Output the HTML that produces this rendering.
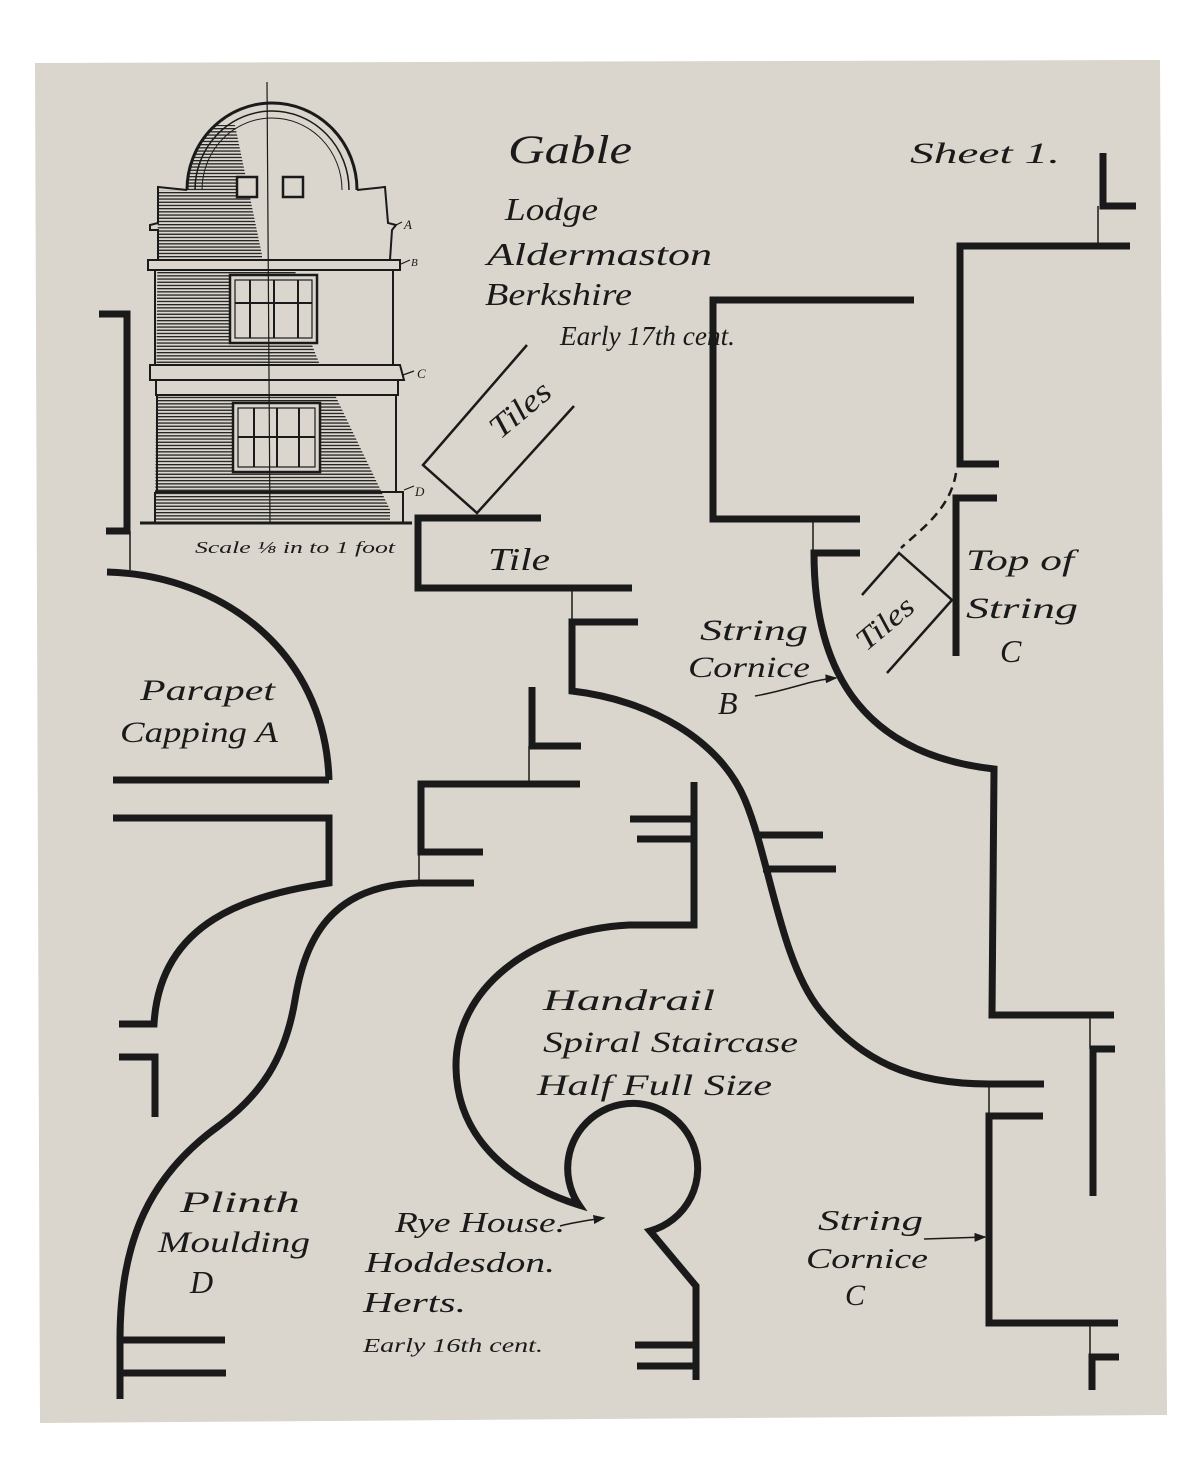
<!DOCTYPE html>
<html><head><meta charset="utf-8"><style>
html,body{margin:0;padding:0;background:#fff;}
svg{display:block;}
text{font-family:"Liberation Serif",serif;font-style:italic;fill:#1a1a1a;}
</style></head><body>
<svg width="1200" height="1476" viewBox="0 0 1200 1476" xmlns="http://www.w3.org/2000/svg">
<defs>
<pattern id="hat" width="6" height="3.2" patternUnits="userSpaceOnUse">
<rect x="0" y="0" width="6" height="1.3" fill="#222"/>
</pattern>
<clipPath id="bld"><path d="M158,190 L187,190 A85,87 0 0 1 357,190 L390,190 L390,523 L155,523 Z"/></clipPath>
<marker id="ah" markerWidth="8" markerHeight="6" refX="7" refY="3" orient="auto"><path d="M0,0 L8,3 L0,6 Z" fill="#1a1a1a"/></marker>
</defs>
<polygon points="35,63 1160,60 1167,1415 40,1423" fill="#dad6cd"/>

<!-- Gable building -->
<g stroke="#1a1a1a" fill="none">
<polygon clip-path="url(#bld)" points="155,190 195,125 235,125 262,255 262,270 295,270 312,345 320,365 320,395 335,395 395,520 155,520" fill="url(#hat)" stroke="none"/>
<path d="M187,190 A85,87 0 0 1 357,190" stroke-width="3"/>
<path d="M195,190 A77,79 0 0 1 349,190" stroke-width="1.5"/>
<path d="M202,190 A70,72 0 0 1 342,190" stroke-width="1"/>
<path d="M187,190 L158,187 L158,223 L150,225 L150,230 L158,230 L158,260 M357,190 L385,187 L388,223 L396,225 L392,230 L390,260" stroke-width="2"/>
<rect x="148" y="260" width="252" height="10" stroke-width="2" fill="#dad6cd"/>
<path d="M155,270 L155,365 M393,270 L393,365" stroke-width="2"/>
<path d="M150,365 L400,365 L404,380 L150,380 Z M156,380 L156,395 L398,395 L398,380" stroke-width="2" fill="#dad6cd"/>
<path d="M157,395 L157,492 M396,395 L396,492" stroke-width="2"/>
<path d="M155,492 L403,492 L403,523 M155,492 L155,523" stroke-width="2"/>
<path d="M140,523 L412,523" stroke-width="3"/>
<rect x="230" y="275" width="87" height="68" stroke-width="2.5" fill="#dad6cd"/>
<rect x="235" y="280" width="77" height="58" stroke-width="1.2"/>
<path d="M250,280 V338 M274,280 V338 M298,280 V338 M235,303 H312" stroke-width="2"/>
<rect x="233" y="403" width="87" height="69" stroke-width="2.5" fill="#dad6cd"/>
<rect x="238" y="408" width="77" height="59" stroke-width="1.2"/>
<path d="M254,408 V467 M277,408 V467 M299,408 V467 M238,437 H315" stroke-width="2"/>
<rect x="237" y="177" width="20" height="20" stroke-width="2.5" fill="#dad6cd"/>
<rect x="283" y="177" width="20" height="20" stroke-width="2.5" fill="#dad6cd"/>
<path d="M267,82 L270,523" stroke-width="1.2"/>
<path d="M394,226 L402,222 M401,264 L410,260 M403,375 L414,371 M404,490 L414,486" stroke-width="1.2"/>
</g>
<text x="404" y="229" font-size="13">A</text>
<text x="411" y="266" font-size="11">B</text>
<text x="417" y="378" font-size="13">C</text>
<text x="415" y="496" font-size="13">D</text>
<text x="195" y="553" font-size="17" textLength="200" lengthAdjust="spacingAndGlyphs">Scale ⅛ in to 1 foot</text>

<!-- main thick lines -->
<g stroke="#1a1a1a" stroke-width="7" fill="none" stroke-linejoin="miter">
<path d="M99,314 L127,314 L127,531 L106,531"/>
<path d="M107,572 C220,575 325,650 329,780"/>
<path d="M113,780 L329,780 M113,818 L329,818 L329,883 C250,895 160,920 154,1024 L119,1024 M119,1057 L155,1057 L155,1117"/>
<path d="M474,883 L419,883 C330,885 305,940 295,1000 C285,1060 260,1095 220,1125 C150,1175 120,1240 120,1339 L120,1399 M120,1340 L225,1340 M120,1373 L226,1373"/>
<path d="M541,518 L418,518 L418,588 L632,588"/>
<path d="M638,622 L572,622 L572,691 C650,700 720,740 745,800 C770,860 780,960 820,1010 C860,1060 910,1084 989,1084 L1044,1084"/>
<path d="M532,687 L532,746 L581,746 M580,784 L421,784 L421,852 L483,852"/>
<path d="M694,782 L694,925 L629,925 C530,930 455,990 456,1067 C457,1150 530,1190 579,1205 A65,65 0 1 1 650,1231 L696,1286 L696,1380"/>
<path d="M630,819 L694,819 M637,839 L694,839 M635,1345 L696,1345 M637,1366 L696,1366"/>
<path d="M759,835 L823,835 M763,869 L836,869"/>
<path d="M1043,1116 L989,1116 L989,1323 L1118,1323 M1119,1357 L1092,1357 L1092,1390"/>
<path d="M1103,153 L1103,206 L1136,206 M1130,246 L960,246 L960,464 L999,464 M997,498 L956,498 L956,656"/>
<path d="M914,300 L713,300 L713,519 L860,519 M860,553 L814,553 C814,680 870,755 994,769 L992,1015 L1114,1015 M1115,1049 L1093,1049 L1093,1196"/>
</g>
<g stroke="#1a1a1a" stroke-width="2.5" fill="none">
<polyline points="527,345 423,465 477,513 574,406"/>
<polyline points="862,595 899,553 952,600 887,673"/>
<path d="M956,473 C950,510 920,530 901,548" stroke-dasharray="9,6"/>
</g>
<g stroke="#1a1a1a" stroke-width="1.5" fill="none">
<path d="M130,531 L130,570 M572,588 L572,622 M529,746 L529,784 M419,852 L419,884 M989,1084 L989,1116 M1090,1323 L1090,1358 M1098,206 L1098,246 M813,519 L813,553 M1090,1015 L1090,1049"/>
<path d="M755,696 C790,690 810,680 836,678" marker-end="url(#ah)"/>
<path d="M924,1239 L985,1237" marker-end="url(#ah)"/>
<path d="M560,1226 C575,1222 590,1220 604,1218" marker-end="url(#ah)"/>
</g>

<!-- texts -->
<text x="508" y="163" font-size="40" textLength="124" lengthAdjust="spacingAndGlyphs">Gable</text>
<text x="910" y="163" font-size="30" textLength="150" lengthAdjust="spacingAndGlyphs">Sheet 1.</text>
<text x="505" y="220" font-size="32" textLength="93" lengthAdjust="spacingAndGlyphs">Lodge</text>
<text x="487" y="265" font-size="32" textLength="225" lengthAdjust="spacingAndGlyphs">Aldermaston</text>
<text x="485" y="305" font-size="32" textLength="147" lengthAdjust="spacingAndGlyphs">Berkshire</text>
<text x="560" y="345" font-size="27" textLength="175" lengthAdjust="spacingAndGlyphs">Early 17th cent.</text>
<text x="0" y="0" font-size="32" transform="translate(500,440) rotate(-40)" textLength="70" lengthAdjust="spacingAndGlyphs">Tiles</text>
<text x="488" y="570" font-size="32" textLength="62" lengthAdjust="spacingAndGlyphs">Tile</text>
<text x="0" y="0" font-size="30" transform="translate(866,652) rotate(-40)" textLength="66" lengthAdjust="spacingAndGlyphs">Tiles</text>
<text x="140" y="700" font-size="30" textLength="135" lengthAdjust="spacingAndGlyphs">Parapet</text>
<text x="120" y="742" font-size="30" textLength="158" lengthAdjust="spacingAndGlyphs">Capping A</text>
<text x="700" y="640" font-size="30" textLength="108" lengthAdjust="spacingAndGlyphs">String</text>
<text x="688" y="677" font-size="30" textLength="122" lengthAdjust="spacingAndGlyphs">Cornice</text>
<text x="718" y="714" font-size="32">B</text>
<text x="966" y="570" font-size="30" textLength="108" lengthAdjust="spacingAndGlyphs">Top of</text>
<text x="966" y="618" font-size="30" textLength="112" lengthAdjust="spacingAndGlyphs">String</text>
<text x="1000" y="662" font-size="32">C</text>
<text x="543" y="1010" font-size="30" textLength="172" lengthAdjust="spacingAndGlyphs">Handrail</text>
<text x="543" y="1052" font-size="30" textLength="255" lengthAdjust="spacingAndGlyphs">Spiral  Staircase</text>
<text x="537" y="1095" font-size="30" textLength="235" lengthAdjust="spacingAndGlyphs">Half Full Size</text>
<text x="180" y="1212" font-size="30" textLength="120" lengthAdjust="spacingAndGlyphs">Plinth</text>
<text x="158" y="1252" font-size="30" textLength="152" lengthAdjust="spacingAndGlyphs">Moulding</text>
<text x="190" y="1293" font-size="32">D</text>
<text x="395" y="1232" font-size="28" textLength="170" lengthAdjust="spacingAndGlyphs">Rye House.</text>
<text x="365" y="1272" font-size="28" textLength="190" lengthAdjust="spacingAndGlyphs">Hoddesdon.</text>
<text x="363" y="1312" font-size="28" textLength="103" lengthAdjust="spacingAndGlyphs">Herts.</text>
<text x="363" y="1352" font-size="20" textLength="180" lengthAdjust="spacingAndGlyphs">Early 16th cent.</text>
<text x="818" y="1230" font-size="28" textLength="105" lengthAdjust="spacingAndGlyphs">String</text>
<text x="806" y="1268" font-size="28" textLength="122" lengthAdjust="spacingAndGlyphs">Cornice</text>
<text x="845" y="1305" font-size="30">C</text>
</svg>
</body></html>
